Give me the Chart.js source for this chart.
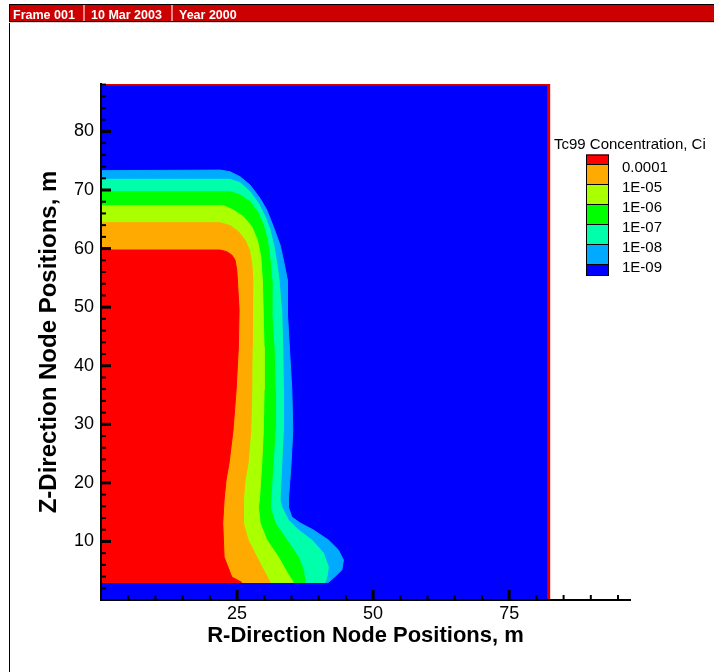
<!DOCTYPE html>
<html lang="en">
<head>
    <meta charset="UTF-8">
    <title>Tc99 Concentration</title>
    <script src="https://cdn.jsdelivr.net/npm/chart.js@4.4.1/dist/chart.umd.min.js"></script>
    <style>
        body { margin: 0; background: #fff; font-family: "Liberation Sans", Arial, sans-serif; }
        canvas { position: absolute; left: 0; top: 0; }
        #frame { position: absolute; left: 9px; top: 4px; width: 720px; height: 700px; border-left: 1px solid #000; }
        #bar {
            position: absolute; left: 9px; top: 4px; width: 720px; height: 16px;
            background: #cc0000; border-top: 1px solid #000; border-bottom: 1px solid #000; border-left: 1px solid #000;
            box-shadow: 0 1px 0 #d8d8d8;
        }
        #bar span { position: absolute; top: 2px; color: #fff; font-weight: bold; font-size: 12.5px; line-height: 16px; white-space: nowrap; }
        #bar i { position: absolute; top: 0; width: 2px; height: 16px; background: #ee8888; }
    </style>
</head>
<body>
    <div id="frame"></div>
    <canvas id="plumeChart" width="714" height="672"></canvas>
    <div id="bar">
        <span style="left: 3px;">Frame 001</span><i style="left: 73px;"></i>
        <span style="left: 81px;">10 Mar 2003</span><i style="left: 161px;"></i>
        <span style="left: 169px;">Year 2000</span>
    </div>

    <script>
        // contour edges as [R, Z] in metres, from the left boundary round to the base of the plume
        const edge1E09 = [[0, 73.3], [21.9, 73.4], [23.71, 73.12], [25.55, 72.27], [27.39, 70.85], [29.23, 68.56], [30.46, 66.58],
            [31.67, 63.74], [32.9, 60.61], [33.51, 58.05], [34.01, 55.78], [34.25, 54.63], [34.25, 49.0], [34.61, 43.2],
            [35.06, 35.85], [35.24, 29.03], [34.93, 23.39], [34.43, 17.07], [34.43, 15.88], [35.06, 14.17], [36.58, 13.15],
            [39.03, 11.95], [41.78, 10.24], [43.62, 8.54], [44.54, 6.83], [44.25, 5.12], [42.7, 3.76], [41.78, 3.0]];
        const edge1E08 = [[0, 71.83], [23.71, 71.83], [25.55, 71.25], [27.39, 69.71], [28.92, 67.73], [30.15, 65.44], [31.07, 63.17],
            [31.8, 60.32], [32.41, 56.91], [32.72, 54.63], [33.22, 49.0], [33.4, 43.2], [33.51, 35.85], [33.51, 29.03],
            [33.22, 23.39], [32.9, 17.07], [33.22, 15.88], [34.43, 13.66], [36.27, 11.95], [38.73, 10.24], [40.86, 8.02],
            [41.78, 5.63], [41.49, 3.76], [41.18, 3.0]];
        const edge1E07 = [[0, 69.71], [23.71, 69.71], [25.55, 69.15], [27.39, 68.01], [28.92, 66.02], [29.83, 64.03], [30.57, 61.46],
            [31.07, 58.05], [31.38, 54.63], [31.38, 49.0], [31.8, 43.2], [31.99, 35.85], [31.99, 29.03], [31.62, 23.39],
            [31.19, 17.07], [31.07, 15.88], [31.99, 13.15], [34.14, 10.24], [36.27, 7.34], [37.19, 5.12], [37.5, 3.0]];
        const edge1E06 = [[0, 67.32], [22.48, 67.32], [24.32, 66.59], [26.16, 65.44], [27.7, 63.74], [28.73, 61.46], [29.36, 58.61],
            [29.65, 54.63], [29.96, 43.2], [29.96, 35.85], [29.83, 29.03], [29.54, 23.39], [29.1, 17.07], [28.92, 15.88],
            [29.23, 13.15], [30.46, 10.24], [32.59, 7.34], [34.25, 4.61], [35.35, 3.0]];
        const edge1E05 = [[0, 64.42], [21.88, 64.42], [23.71, 63.91], [25.24, 62.88], [26.47, 61.46], [27.26, 59.76], [27.7, 57.49],
            [27.89, 54.63], [27.76, 43.2], [27.7, 35.85], [27.52, 29.03], [27.02, 23.39], [26.47, 20.49], [26.16, 17.07],
            [26.16, 13.15], [27.02, 10.24], [28.62, 7.34], [30.15, 4.61], [31.07, 3.0]];
        const edge1E04 = [[0, 59.76], [21.88, 59.76], [23.11, 59.47], [24.03, 58.9], [24.63, 58.05], [24.94, 56.34], [25.06, 54.63],
            [25.37, 49.53], [25.24, 43.2], [24.82, 35.85], [24.26, 29.03], [23.53, 23.39], [22.98, 20.49], [22.61, 17.07],
            [22.37, 13.15], [22.61, 7.34], [24.03, 3.93], [25.86, 3.0]];

        const levelLabels = ['0.0001', '1E-05', '1E-06', '1E-07', '1E-08', '1E-09'];
        const bandColors = ['#ff0000', '#ffaa00', '#aaff00', '#00ff00', '#00ffaa', '#00aaff', '#0000ff'];
        const xTicks = [25, 50, 75];
        const yTicks = [10, 20, 30, 40, 50, 60, 70, 80];
        const domainR = 82.26;
        const domainZ = 88.1;
        const plumeBase = 3.0;

        // outermost band first, red on top
        const bands = [edge1E09, edge1E08, edge1E07, edge1E06, edge1E05, edge1E04];

        function toShape(edge) {
            const pts = edge.map(p => ({ x: p[0], y: p[1] }));
            pts.push({ x: 0, y: plumeBase });
            return pts;
        }

        const shapeStyle = { showLine: true, fill: 'shape', pointRadius: 0, borderWidth: 1, tension: 0 };
        const datasets = [];
        datasets.push(Object.assign({
            data: [{ x: 0, y: 0 }, { x: domainR, y: 0 }, { x: domainR, y: domainZ }, { x: 0, y: domainZ }],
            backgroundColor: bandColors[6], borderColor: bandColors[6], order: 10
        }, shapeStyle));
        bands.forEach((edge, i) => {
            const c = bandColors[5 - i];
            datasets.push(Object.assign({ data: toShape(edge), backgroundColor: c, borderColor: c, order: 9 - i }, shapeStyle));
        });
        // red zone outline along the top and right edges
        datasets.push({
            data: [{ x: 0, y: domainZ }, { x: domainR, y: domainZ }, { x: domainR, y: 0 }],
            showLine: true, fill: false, pointRadius: 0, borderWidth: 3, borderColor: '#e00000', order: 0
        });

        const frameTicks = {
            id: 'frameTicks',
            afterDraw(chart) {
                const { ctx, scales: { x, y } } = chart;
                const x0 = x.getPixelForValue(0);
                const y0 = y.getPixelForValue(0);
                ctx.save();
                ctx.strokeStyle = '#000';
                for (let v = 2; v < domainZ; v += 2) {
                    const major = v % 10 === 0;
                    const py = y.getPixelForValue(v);
                    ctx.lineWidth = major ? 3 : 2;
                    ctx.beginPath();
                    ctx.moveTo(x0, py);
                    ctx.lineTo(x0 + (major ? 10 : 5), py);
                    ctx.stroke();
                }
                for (let v = 5; v < x.max; v += 5) {
                    const major = v % 25 === 0;
                    const px = x.getPixelForValue(v);
                    ctx.lineWidth = major ? 3 : 2;
                    ctx.beginPath();
                    ctx.moveTo(px, y0);
                    ctx.lineTo(px, y0 - (major ? 10 : 5));
                    ctx.stroke();
                }

                // contour legend
                ctx.fillStyle = '#000';
                ctx.font = '15px "Liberation Sans", Arial, sans-serif';
                ctx.textBaseline = 'middle';
                ctx.textAlign = 'left';
                ctx.fillText('Tc99 Concentration, Ci', 554, 145);
                const edges = [154.5, 164, 184, 204, 224, 244, 264, 275];
                ctx.lineWidth = 1;
                for (let i = 0; i < bandColors.length; i++) {
                    ctx.fillStyle = bandColors[i];
                    ctx.fillRect(586, edges[i], 23, edges[i + 1] - edges[i]);
                    ctx.strokeRect(586.5, edges[i] + 0.5, 22, edges[i + 1] - edges[i]);
                }
                ctx.fillStyle = '#000';
                levelLabels.forEach((t, i) => ctx.fillText(t, 622, edges[i + 1] + 3.5));
                ctx.restore();
            }
        };

        Chart.defaults.color = '#000';
        Chart.defaults.font.family = '"Liberation Sans", Arial, sans-serif';

        new Chart(document.getElementById('plumeChart'), {
            type: 'scatter',
            data: { datasets: datasets },
            options: {
                responsive: false,
                devicePixelRatio: 1,
                animation: false,
                events: [],
                layout: { padding: { left: 0, top: 84, right: 84, bottom: 0 } },
                plugins: { legend: { display: false }, tooltip: { enabled: false } },
                scales: {
                    x: {
                        type: 'linear', min: 0, max: 97.2,
                        afterFit: s => { s.height = 72; },
                        afterBuildTicks: s => { s.ticks = xTicks.map(v => ({ value: v })); },
                        grid: { display: false, drawTicks: false },
                        border: { display: true, color: '#000', width: 2, z: 1 },
                        ticks: { font: { size: 18 }, padding: 3, maxRotation: 0, callback: v => String(v) },
                        title: {
                            display: true, text: 'R-Direction Node Positions, m',
                            font: { size: 22, weight: 'bold' }, padding: { top: 0, bottom: 23 }
                        }
                    },
                    y: {
                        type: 'linear', min: 0, max: domainZ,
                        afterFit: s => { s.width = 101; },
                        afterBuildTicks: s => { s.ticks = yTicks.map(v => ({ value: v })); },
                        grid: { display: false, drawTicks: false },
                        border: { display: true, color: '#000', width: 2, z: 1 },
                        ticks: { font: { size: 18 }, padding: 7, callback: v => String(v) },
                        title: {
                            display: true, text: 'Z-Direction Node Positions, m',
                            font: { size: 24, weight: 'bold' }, padding: { top: 35, bottom: 0 }
                        }
                    }
                }
            },
            plugins: [frameTicks]
        });
    </script>
</body>
</html>
